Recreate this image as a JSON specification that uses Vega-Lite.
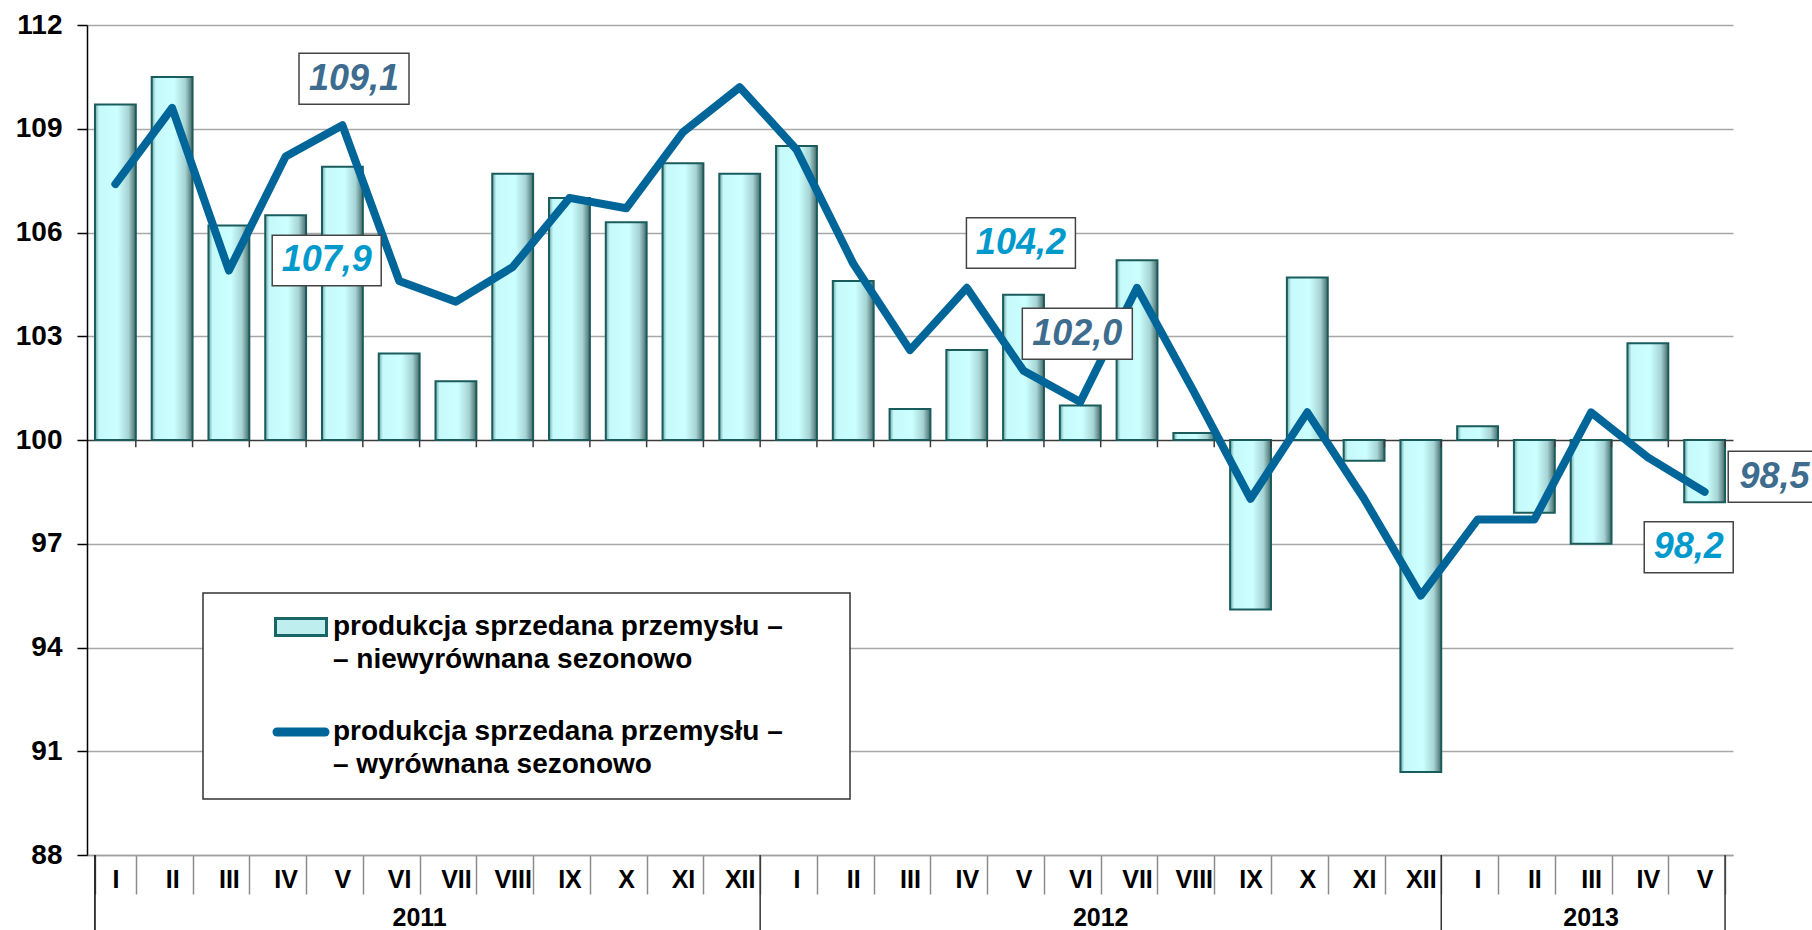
{
  "$schema": "https://vega.github.io/schema/vega-lite/v6.json",
  "width": 1646,
  "height": 830,
  "autosize": {"type": "none"},
  "padding": {"left": 87, "top": 25, "right": 79, "bottom": 75},
  "config": {
    "view": {"stroke": null},
    "font": "Liberation Sans",
    "locale": {"number": {"decimal": ",", "thousands": " ", "grouping": [3], "currency": ["", " zł"]}}
  },
  "data": {
    "values": [
      {"okres": "2011-I", "rok": "2011", "mies": "I", "nsa": 109.7, "sa": 107.4},
      {"okres": "2011-II", "rok": "2011", "mies": "II", "nsa": 110.5, "sa": 109.6},
      {"okres": "2011-III", "rok": "2011", "mies": "III", "nsa": 106.2, "sa": 104.9},
      {"okres": "2011-IV", "rok": "2011", "mies": "IV", "nsa": 106.5, "sa": 108.2},
      {"okres": "2011-V", "rok": "2011", "mies": "V", "nsa": 107.9, "sa": 109.1},
      {"okres": "2011-VI", "rok": "2011", "mies": "VI", "nsa": 102.5, "sa": 104.6},
      {"okres": "2011-VII", "rok": "2011", "mies": "VII", "nsa": 101.7, "sa": 104.0},
      {"okres": "2011-VIII", "rok": "2011", "mies": "VIII", "nsa": 107.7, "sa": 105.0},
      {"okres": "2011-IX", "rok": "2011", "mies": "IX", "nsa": 107.0, "sa": 107.0},
      {"okres": "2011-X", "rok": "2011", "mies": "X", "nsa": 106.3, "sa": 106.7},
      {"okres": "2011-XI", "rok": "2011", "mies": "XI", "nsa": 108.0, "sa": 108.9},
      {"okres": "2011-XII", "rok": "2011", "mies": "XII", "nsa": 107.7, "sa": 110.2},
      {"okres": "2012-I", "rok": "2012", "mies": "I", "nsa": 108.5, "sa": 108.4},
      {"okres": "2012-II", "rok": "2012", "mies": "II", "nsa": 104.6, "sa": 105.1},
      {"okres": "2012-III", "rok": "2012", "mies": "III", "nsa": 100.9, "sa": 102.6},
      {"okres": "2012-IV", "rok": "2012", "mies": "IV", "nsa": 102.6, "sa": 104.4},
      {"okres": "2012-V", "rok": "2012", "mies": "V", "nsa": 104.2, "sa": 102.0},
      {"okres": "2012-VI", "rok": "2012", "mies": "VI", "nsa": 101.0, "sa": 101.1},
      {"okres": "2012-VII", "rok": "2012", "mies": "VII", "nsa": 105.2, "sa": 104.4},
      {"okres": "2012-VIII", "rok": "2012", "mies": "VIII", "nsa": 100.2, "sa": 101.4},
      {"okres": "2012-IX", "rok": "2012", "mies": "IX", "nsa": 95.1, "sa": 98.3},
      {"okres": "2012-X", "rok": "2012", "mies": "X", "nsa": 104.7, "sa": 100.8},
      {"okres": "2012-XI", "rok": "2012", "mies": "XI", "nsa": 99.4, "sa": 98.3},
      {"okres": "2012-XII", "rok": "2012", "mies": "XII", "nsa": 90.4, "sa": 95.5},
      {"okres": "2013-I", "rok": "2013", "mies": "I", "nsa": 100.4, "sa": 97.7},
      {"okres": "2013-II", "rok": "2013", "mies": "II", "nsa": 97.9, "sa": 97.7},
      {"okres": "2013-III", "rok": "2013", "mies": "III", "nsa": 97.0, "sa": 100.8},
      {"okres": "2013-IV", "rok": "2013", "mies": "IV", "nsa": 102.8, "sa": 99.5},
      {"okres": "2013-V", "rok": "2013", "mies": "V", "nsa": 98.2, "sa": 98.5}
    ]
  },
  "layer": [
    {
      "mark": {
        "type": "bar",
        "stroke": "#1a5c5c",
        "strokeWidth": 2,
        "fill": {
          "gradient": "linear", "x1": 0, "y1": 0, "x2": 1, "y2": 0,
          "stops": [
            {"offset": 0, "color": "#6fa5a5"},
            {"offset": 0.1, "color": "#c6fafa"},
            {"offset": 0.55, "color": "#ccffff"},
            {"offset": 0.82, "color": "#a6d3d3"},
            {"offset": 1, "color": "#466b6b"}
          ]
        }
      },
      "encoding": {
        "x": {
          "field": "okres", "type": "nominal", "title": null,
          "scale": {
            "type": "band", "paddingInner": 0.28, "paddingOuter": 0.14,
            "domain": ["2011-I","2011-II","2011-III","2011-IV","2011-V","2011-VI","2011-VII","2011-VIII","2011-IX","2011-X","2011-XI","2011-XII","2012-I","2012-II","2012-III","2012-IV","2012-V","2012-VI","2012-VII","2012-VIII","2012-IX","2012-X","2012-XI","2012-XII","2013-I","2013-II","2013-III","2013-IV","2013-V"]
          },
          "axis": {
            "labelExpr": "split(datum.value, '-')[1]",
            "labelAngle": 0,
            "tickBand": "extent",
            "tickSize": 39,
            "tickColor": "#8c8c8c",
            "tickWidth": 1.5,
            "domainColor": "#a0a0a0",
            "domainWidth": 1.5,
            "labelFont": "Liberation Sans",
            "labelFontSize": 25,
            "labelFontWeight": "bold",
            "labelColor": "#000000",
            "labelBaseline": "middle",
            "labelPadding": -15,
            "labelOverlap": false,
            "labelFlush": false,
            "grid": false
          }
        },
        "y": {
          "field": "nsa", "type": "quantitative", "title": null,
          "scale": {"domain": [88, 112], "nice": false, "zero": false},
          "axis": {
            "values": [88, 91, 94, 97, 100, 103, 106, 109, 112],
            "grid": true,
            "gridColor": {"condition": {"test": "datum.value === 100", "value": "#3a3a3a"}, "value": "#a8a8a8"},
            "gridWidth": 1.5,
            "domainColor": "#000000",
            "domainWidth": 1.5,
            "tickColor": "#000000",
            "tickSize": 10,
            "tickWidth": 1.5,
            "labelPadding": 15,
            "labelFont": "Liberation Sans",
            "labelFontSize": 28,
            "labelFontWeight": "bold",
            "labelColor": "#000000"
          }
        },
        "y2": {"datum": 100}
      }
    },
    {
      "mark": {"type": "rule", "color": "#3a3a3a", "strokeWidth": 1.5},
      "encoding": {
        "x": {"field": "okres", "type": "nominal", "title": null, "bandPosition": 1},
        "y": {"datum": 100},
        "y2": {"datum": 99.79}
      }
    },
    {
      "transform": [{"filter": "datum.okres === '2011-I'"}],
      "mark": {"type": "rule", "color": "#000000", "strokeWidth": 1.5},
      "encoding": {
        "x": {"field": "okres", "type": "nominal", "title": null, "bandPosition": 0},
        "y": {"datum": 88},
        "y2": {"datum": 85.8}
      }
    },
    {
      "transform": [{"filter": "datum.mies === 'XII' || datum.okres === '2013-V'"}],
      "mark": {"type": "rule", "color": "#333333", "strokeWidth": 1.5},
      "encoding": {
        "x": {"field": "okres", "type": "nominal", "title": null, "bandPosition": 1},
        "y": {"datum": 88},
        "y2": {"datum": 85.8}
      }
    },
    {
      "transform": [{"filter": "datum.mies === 'VI' && datum.rok !== '2013'"}],
      "mark": {"type": "text", "font": "Liberation Sans", "fontSize": 25, "fontWeight": "bold", "color": "#000000", "baseline": "middle", "align": "center"},
      "encoding": {
        "x": {"field": "okres", "type": "nominal", "title": null, "bandPosition": 1},
        "y": {"datum": 86.19},
        "text": {"field": "rok"}
      }
    },
    {
      "transform": [{"filter": "datum.okres === '2013-III'"}],
      "mark": {"type": "text", "font": "Liberation Sans", "fontSize": 25, "fontWeight": "bold", "color": "#000000", "baseline": "middle", "align": "center"},
      "encoding": {
        "x": {"field": "okres", "type": "nominal", "title": null},
        "y": {"datum": 86.19},
        "text": {"field": "rok"}
      }
    },
    {
      "mark": {"type": "line", "strokeWidth": 8, "strokeCap": "round", "strokeJoin": "round"},
      "encoding": {
        "x": {"field": "okres", "type": "nominal", "title": null},
        "y": {"field": "sa", "type": "quantitative", "title": null},
        "color": {
          "datum": "produkcja sprzedana przemysłu –\u00a0\u00a0\u00a0\u00a0\u00a0\u00a0\u200b|– wyrównana sezonowo",
          "type": "nominal",
          "scale": {
            "domain": ["produkcja sprzedana przemysłu –\u00a0\u00a0\u00a0\u00a0\u00a0\u00a0\u200b|– niewyrównana sezonowo", "produkcja sprzedana przemysłu –\u00a0\u00a0\u00a0\u00a0\u00a0\u00a0\u200b|– wyrównana sezonowo"],
            "range": ["#1a6666", "#00669a"]
          },
          "legend": {
            "title": null,
            "orient": "none",
            "legendX": 116,
            "legendY": 568,
            "strokeColor": "#333333",
            "fillColor": "#ffffff",
            "padding": 20,
            "symbolOffset": 64,
            "symbolSize": 3600,
            "labelOffset": 18,
            "rowPadding": 40,
            "labelFont": "Liberation Sans",
            "labelFontSize": 28,
            "labelFontWeight": "bold",
            "labelColor": "#000000",
            "labelLimit": 1000,
            "labelExpr": "split(datum.label, '|')",
            "encode": {
              "symbols": {
                "update": {
                  "shape": {"signal": "datum.index === 0 ? 'M-0.85,-0.28H0.85V0.28H-0.85Z' : 'M-0.8,0H0.8'"},
                  "fill": {"signal": "datum.index === 0 ? '#bfeeee' : 'transparent'"},
                  "stroke": {"signal": "datum.index === 0 ? '#1a6666' : '#00669a'"},
                  "strokeWidth": {"signal": "datum.index === 0 ? 3 : 9"},
                  "strokeCap": {"value": "round"},
                  "opacity": {"value": 1}
                }
              },
              "labels": {"update": {"lineHeight": {"value": 33}}},
              "legend": {"update": {"strokeWidth": {"value": 1.5}}}
            }
          }
        }
      }
    },
    {
      "transform": [{"filter": "datum.okres === '2011-V'"}],
      "layer": [
        {"mark": {"type": "point", "shape": "M-1,-0.4636H1V0.4636H-1Z", "size": 12100, "filled": true, "fill": "#ffffff", "stroke": "#444444", "strokeWidth": 1.5, "opacity": 1, "xOffset": 11.6, "yOffset": -46.5},
         "encoding": {"x": {"field": "okres", "type": "nominal", "title": null}, "y": {"field": "sa", "type": "quantitative", "title": null}}},
        {"mark": {"type": "text", "font": "Liberation Sans", "fontSize": 36, "fontWeight": "bold", "fontStyle": "italic", "color": "#3e6c8e", "align": "center", "baseline": "middle", "dx": 11.6, "dy": -46.5},
         "encoding": {"x": {"field": "okres", "type": "nominal", "title": null}, "y": {"field": "sa", "type": "quantitative", "title": null}, "text": {"field": "sa", "type": "quantitative", "format": ".1f"}}},
        {"mark": {"type": "point", "shape": "M-1,-0.4636H1V0.4636H-1Z", "size": 11881, "filled": true, "fill": "#ffffff", "stroke": "#444444", "strokeWidth": 1.5, "opacity": 1, "xOffset": -15.7, "yOffset": 93.7},
         "encoding": {"x": {"field": "okres", "type": "nominal", "title": null}, "y": {"field": "nsa", "type": "quantitative", "title": null}}},
        {"mark": {"type": "text", "font": "Liberation Sans", "fontSize": 36, "fontWeight": "bold", "fontStyle": "italic", "color": "#0099cc", "align": "center", "baseline": "middle", "dx": -15.7, "dy": 93.7},
         "encoding": {"x": {"field": "okres", "type": "nominal", "title": null}, "y": {"field": "nsa", "type": "quantitative", "title": null}, "text": {"field": "nsa", "type": "quantitative", "format": ".1f"}}}
      ]
    },
    {
      "transform": [{"filter": "datum.okres === '2012-V'"}],
      "layer": [
        {"mark": {"type": "point", "shape": "M-1,-0.4636H1V0.4636H-1Z", "size": 12100, "filled": true, "fill": "#ffffff", "stroke": "#444444", "strokeWidth": 1.5, "opacity": 1, "xOffset": 53.8, "yOffset": -37.1},
         "encoding": {"x": {"field": "okres", "type": "nominal", "title": null}, "y": {"field": "sa", "type": "quantitative", "title": null}}},
        {"mark": {"type": "text", "font": "Liberation Sans", "fontSize": 36, "fontWeight": "bold", "fontStyle": "italic", "color": "#3e6c8e", "align": "center", "baseline": "middle", "dx": 53.8, "dy": -37.1},
         "encoding": {"x": {"field": "okres", "type": "nominal", "title": null}, "y": {"field": "sa", "type": "quantitative", "title": null}, "text": {"field": "sa", "type": "quantitative", "format": ".1f"}}},
        {"mark": {"type": "point", "shape": "M-1,-0.4636H1V0.4636H-1Z", "size": 11881, "filled": true, "fill": "#ffffff", "stroke": "#444444", "strokeWidth": 1.5, "opacity": 1, "xOffset": -2.6, "yOffset": -51.7},
         "encoding": {"x": {"field": "okres", "type": "nominal", "title": null}, "y": {"field": "nsa", "type": "quantitative", "title": null}}},
        {"mark": {"type": "text", "font": "Liberation Sans", "fontSize": 36, "fontWeight": "bold", "fontStyle": "italic", "color": "#0099cc", "align": "center", "baseline": "middle", "dx": -2.6, "dy": -51.7},
         "encoding": {"x": {"field": "okres", "type": "nominal", "title": null}, "y": {"field": "nsa", "type": "quantitative", "title": null}, "text": {"field": "nsa", "type": "quantitative", "format": ".1f"}}}
      ]
    },
    {
      "transform": [{"filter": "datum.okres === '2013-V'"}],
      "layer": [
        {"mark": {"type": "point", "shape": "M-0.809,-0.4636H0.809V0.4636H-0.809Z", "size": 12100, "filled": true, "fill": "#ffffff", "stroke": "#444444", "strokeWidth": 1.5, "opacity": 1, "xOffset": 68.1, "yOffset": -15.2},
         "encoding": {"x": {"field": "okres", "type": "nominal", "title": null}, "y": {"field": "sa", "type": "quantitative", "title": null}}},
        {"mark": {"type": "text", "font": "Liberation Sans", "fontSize": 36, "fontWeight": "bold", "fontStyle": "italic", "color": "#3e6c8e", "align": "center", "baseline": "middle", "dx": 69.8, "dy": -15.2},
         "encoding": {"x": {"field": "okres", "type": "nominal", "title": null}, "y": {"field": "sa", "type": "quantitative", "title": null}, "text": {"field": "sa", "type": "quantitative", "format": ".1f"}}},
        {"mark": {"type": "point", "shape": "M-0.809,-0.4636H0.809V0.4636H-0.809Z", "size": 12100, "filled": true, "fill": "#ffffff", "stroke": "#444444", "strokeWidth": 1.5, "opacity": 1, "xOffset": -15.9, "yOffset": 45},
         "encoding": {"x": {"field": "okres", "type": "nominal", "title": null}, "y": {"field": "nsa", "type": "quantitative", "title": null}}},
        {"mark": {"type": "text", "font": "Liberation Sans", "fontSize": 36, "fontWeight": "bold", "fontStyle": "italic", "color": "#0099cc", "align": "center", "baseline": "middle", "dx": -15.9, "dy": 45},
         "encoding": {"x": {"field": "okres", "type": "nominal", "title": null}, "y": {"field": "nsa", "type": "quantitative", "title": null}, "text": {"field": "nsa", "type": "quantitative", "format": ".1f"}}}
      ]
    }
  ]
}
